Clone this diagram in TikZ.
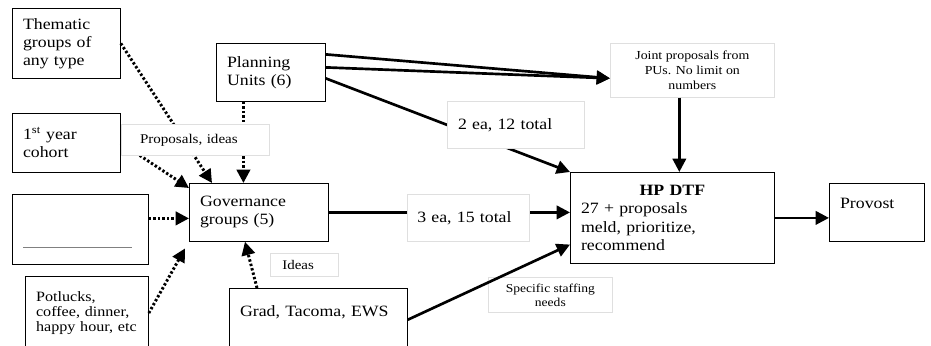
\documentclass[tikz,border=0pt]{standalone}
\usepackage{fontspec}
\setmainfont[FakeStretch=1.13]{Liberation Serif}
\usetikzlibrary{arrows.meta,calc}
\tikzset{
    >={Triangle[length=10pt,width=10pt]},
    kasse/.style={
           draw=black, line width=0.6pt,
           anchor=north west,
           align=left,
           inner xsep=8pt,
           font=\fontsize{11.8}{13.6}\selectfont},
    merke/.style={
           draw=gray!25, fill=white, line width=0.5pt,
           anchor=north west,
           align=center,
           inner sep=1pt,
           font=\fontsize{9.2}{11.25}\selectfont},
    pil/.style={
           ->,
           line width=2pt},
    prikkpil/.style={
           ->,
           line width=2.2pt,
           dash pattern=on 1.8pt off 1.6pt}
}

\begin{document}
\begin{tikzpicture}[x=0.75pt, y=-0.75pt]
        \useasboundingbox (0,0) rectangle (931,346);

        % boxes
        \node[kasse, text width=65pt, minimum height=52.5pt] (tema) at (12,8) {Thematic\\groups of\\any type};
        \node[kasse, text width=65pt, minimum height=44.25pt] (kull) at (12,113) {1\textsuperscript{st} year\\cohort};
        \node[kasse, text width=86pt, minimum height=52.5pt] (tom) at (12,194) {\mbox{}\\\mbox{}\\\textcolor{gray}{\rule{82pt}{0.5pt}}};
        \node[kasse, text width=76.25pt, minimum height=55pt, font=\fontsize{10.7}{11.6}\selectfont] (moter) at (25,276) {Potlucks,\\coffee, dinner,\\happy hour, etc};
        \node[kasse, text width=65.75pt, minimum height=43.5pt] (pu) at (216,43) {Planning\\Units (6)};
        \node[kasse, text width=88.25pt, minimum height=43.5pt] (styre) at (189,183) {Governance\\groups (5)};
        \node[kasse, text width=117.5pt, minimum height=47pt] (grad) at (229,288) {Grad, Tacoma, EWS\\\mbox{}};
        \node[kasse, minimum height=68.25pt, text width=137pt] (hp) at (570,172) {{\centering\textbf{HP DTF}\par}27 + proposals\\meld, prioritize,\\recommend};
        \node[kasse, text width=55.25pt, minimum height=43.5pt] (provost) at (829,183) {Provost\\\mbox{}};
        \node[merke, minimum width=123pt, minimum height=40.5pt] (felles) at (610,43) {Joint proposals from\\PUs. No limit on\\numbers};

        % connectors
        \draw[prikkpil] (tema.east) -- ([xshift=17.25pt]styre.north west);
        \draw[prikkpil] (kull.east) -- ([yshift=-3.75pt]styre.north west);
        \draw[prikkpil] ([yshift=8.25pt]tom.east) -- ([yshift=8.25pt]tom.east -| styre.west);
        \draw[prikkpil] (moter.east) -- ([xshift=-3pt,yshift=-5pt]styre.south west);
        \draw[prikkpil] ([xshift=-20.6pt]pu.south) -- ([xshift=-20.6pt]pu.south |- styre.north);
        \draw[prikkpil] ([xshift=21pt]grad.north west) -- ([xshift=42pt]styre.south west);

        \draw[pil] ([yshift=13.5pt]pu.east) -- ([yshift=-6pt]felles.west);
        \draw[pil] ([yshift=3.75pt]pu.east) -- ([yshift=-6pt]felles.west);
        \draw[pil] ([yshift=-4.5pt]pu.east) -- (hp.north west);
        \draw[pil] ([xshift=-9.75pt]felles.south) -- ([xshift=-9.75pt]felles.south |- hp.north);
        \draw[pil] (styre.east) -- (styre.east -| hp.west);
        \draw[pil] (hp.east) -- (hp.east -| provost.west);

        % labels
        \node[merke, minimum height=23.25pt, inner xsep=14pt, text width=83pt, align=left, font=\fontsize{10}{11.5}\selectfont] (forslag) at (121,124) {Proposals, ideas};
        \node[merke, minimum height=35.25pt, inner xsep=8pt, text width=86.75pt, align=left, font=\fontsize{11.8}{13.6}\selectfont] (to) at (447,101) {2 ea, 12 total};
        \node[merke, minimum height=35.25pt, inner xsep=7.5pt, text width=76.5pt, align=left, font=\fontsize{11.8}{13.6}\selectfont] (tre) at (407,194) {3 ea, 15 total};
        \node[merke, minimum height=17.25pt, inner xsep=9pt, text width=33pt, align=left, font=\fontsize{9.9}{11.5}\selectfont] (ideer) at (270,253) {Ideas};
        \node[merke, minimum width=93pt, minimum height=26.25pt, font=\fontsize{9}{10.5}\selectfont] (behov) at (488,277) {Specific staffing\\needs};

        \draw[pil] (grad.east) -- ([yshift=-20pt]hp.west);
    \end{tikzpicture}
\end{document}
